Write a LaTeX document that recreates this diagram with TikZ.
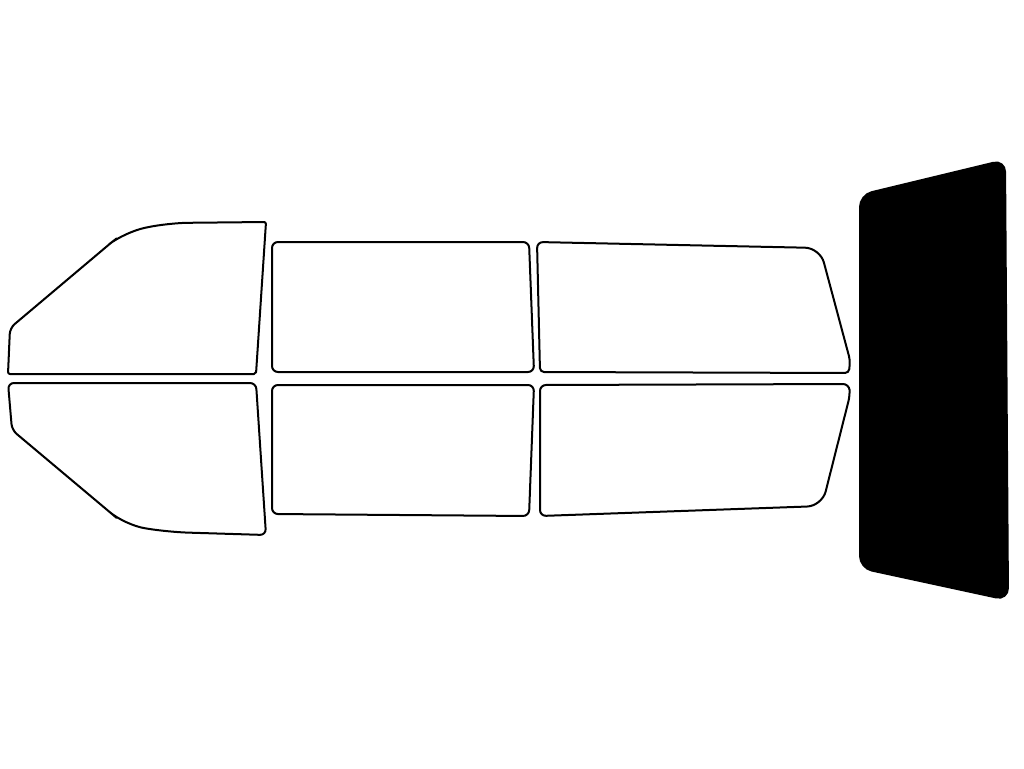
\documentclass[tikz,border=0pt]{standalone}
\begin{document}
\begin{tikzpicture}[x=1pt,y=-1pt,win/.style={draw=black,line width=2pt,line join=round,rounded corners=6pt,fill=white}]
\useasboundingbox (0,0) rectangle (1024,768);
\path[win] (10,328) -- (112,242) [rounded corners=20pt]-- (125,232) -- (168,223) [rounded corners=2pt]-- (266,222) -- (256,374) -- (8,374) [rounded corners=6pt]-- cycle;
\path[win] (8,383) -- (256,383) -- (266,535) [rounded corners=20pt]-- (168,532) -- (125,525) [rounded corners=6pt]-- (112,514) -- (12,430) -- cycle;
\path[win] (272,242) -- (529,242) -- (534,372) -- (272,372) -- cycle;
\path[win] (272,385) -- (534,385) -- (529,516) -- (272,514) -- cycle;
\path[win] (537,242) [rounded corners=15pt]-- (820,248) [rounded corners=4pt]-- (850,360) -- (849,373) -- (540,372) [rounded corners=6pt]-- cycle;
\path[win] (540,385) -- (849,384) -- (850,395) [rounded corners=15pt]-- (822,506) [rounded corners=6pt]-- (540,516) -- cycle;
\path[draw=black,line width=2pt,fill=black,rounded corners=12pt] (860,195) -- (1005,160) -- (1008,600) -- (860,568) -- cycle;
\end{tikzpicture}
\end{document}
